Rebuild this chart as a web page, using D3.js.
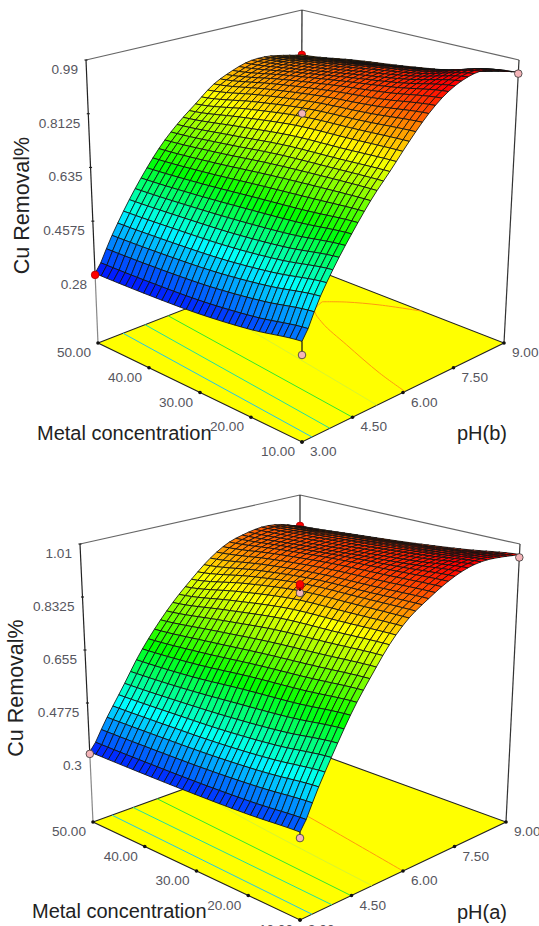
<!DOCTYPE html>
<html>
<head>
<meta charset="utf-8">
<script src="https://cdn.jsdelivr.net/npm/d3@7"></script>
<style>
  body { margin: 0; background: #fff; overflow: hidden; }
  svg { display: block; }
  text { font-family: "Liberation Sans", Arial, sans-serif; }
</style>
</head>
<body>
<svg id="chart" width="539" height="926"></svg>
<script>
// shared axis values
const phLevels = [3, 3.5, 4, 4.5, 5, 5.5, 6, 6.5, 7, 7.5, 8, 8.5, 9];
const metalLevels = [50, 40, 30, 20, 10];
const phTicks = [3, 4.5, 6, 7.5, 9];
const metalTicks = [50, 40, 30, 20, 10];

// chart (b): removal, one row per metal level, along phLevels
const removalB50 = [.285, .385, .48, .565, .64, .70, .75, .80, .83, .85, .852, .84, .825];
const removalB40 = [.29, .391, .487, .575, .655, .722, .787, .835, .865, .878, .882, .871, .855];
const removalB30 = [.30, .402, .497, .59, .675, .745, .815, .862, .895, .91, .915, .898, .88];
const removalB20 = [.32, .424, .516, .605, .69, .755, .825, .878, .92, .94, .945, .93, .91];
const removalB10 = [.35, .455, .545, .625, .70, .765, .835, .90, .95, .98, .99, .975, .95];
const zTicksB = [.28, .4575, .635, .8125, .99];
const zLabelsB = ['0.28', '0.4575', '0.635', '0.8125', '0.99'];
const colorStopsB = [.28, .4575, .60, .78, .96];
const designMetalB = [50, 50, 30, 10, 10];
const designPhB = [3, 9, 6, 9, 3];
const designRemovalB = [.28, .825, .825, .945, .31];
const designAboveB = [true, true, false, false, false];
// floor contours: pH where each line meets a metal level
const contourLevelsB = [.42, .53, .64, .73, .84];
const contourMetalB = [[50, 10], [50, 10], [50, 10], [50, 35, 10], [38.6, 37.4, 33.6, 26.2, 16.6, 10]];
const contourPhB = [[3.74, 3.3], [4.39, 3.83], [5.07, 4.5], [6.08, 5.76, 5.23], [7.92, 7.51, 7.17, 6.77, 6.3, 6.06]];
const contourMetalB2 = [36.1, 32, 26.1];
const contourPhB2 = [8.26, 8.63, 9];

// chart (a)
const removalA50 = [.314, .405, .495, .59, .67, .74, .80, .855, .895, .915, .925, .917, .896];
const removalA40 = [.317, .41, .502, .60, .69, .772, .84, .885, .918, .93, .937, .93, .912];
const removalA30 = [.322, .417, .512, .62, .71, .80, .868, .905, .935, .945, .95, .945, .929];
const removalA20 = [.33, .43, .529, .635, .725, .81, .875, .912, .945, .96, .967, .962, .95];
const removalA10 = [.343, .45, .555, .655, .74, .82, .88, .92, .955, .98, .99, .985, .975];
const zTicksA = [.3, .4775, .655, .8325, 1.01];
const zLabelsA = ['0.3', '0.4775', '0.655', '0.8325', '1.01'];
const colorStopsA = [.30, .46, .62, .82, .98];
const designMetalA = [50, 50, 30, 30, 30, 10, 10];
const designPhA = [3, 9, 6, 6, 6, 9, 3];
const designRemovalA = [.307, .896, .861, .884, .89, .965, .325];
const designAboveA = [false, true, false, true, true, false, false];
const contourLevelsA = [.42, .53, .64, .73, .84];
const contourMetalA = [[50, 10], [50, 10], [50, 10], [50, 36.8, 10], [50, 30.4, 10]];
const contourPhA = [[3.55, 3.35], [4.16, 3.93], [4.86, 4.49], [5.8, 5.49, 5.1], [6.95, 6.48, 6]];

const bandColors = ['#0000ff', '#00ffff', '#00ff00', '#ffff00', '#ff0000'];
const meshCells = 34;

class ResponseSurface {

    constructor(_config) {
        this.config = _config;
        this.initVis();
    }

    initVis() {
        let vis = this;

        vis.g = d3.select('#chart').append('g');

        // data -> unit cube
        vis.uScale = d3.scaleLinear().domain([3, 9]).range([0, 1]);
        vis.vScale = d3.scaleLinear().domain([50, 10]).range([0, 1]);
        vis.hScale = d3.scaleLinear().domain([vis.config.floorZ, d3.max(vis.config.zTicks)]).range([0, 1]);
        vis.phIndex = d3.scaleLinear().domain([3, 9]).range([0, phLevels.length - 1]);
        vis.metalIndex = d3.scaleLinear().domain([50, 10]).range([0, metalLevels.length - 1]);
        vis.color = d3.scaleLinear().domain(vis.config.colorStops).range(bandColors).clamp(true);

        vis.line = d3.line().x(d => d[0]).y(d => d[1]);

        vis.drawFloor();
        vis.drawBox();
        vis.drawPoints(d => d.metal == 50 && d.ph == 9);
        vis.drawSurface();
        vis.drawPoints(d => !(d.metal == 50 && d.ph == 9));
        vis.drawLabels();
    }

    // the box corners are known on screen, everything in between is trilinear
    project(ph, metal, z) {
        let vis = this;
        let u = vis.uScale(ph), v = vis.vScale(metal), h = vis.hScale(z);
        let b = vis.config.box;
        let at = k => {
            let lo = b.left[k] * (1 - u) * (1 - v) + b.back[k] * u * (1 - v)
                + b.front[k] * (1 - u) * v + b.right[k] * u * v;
            let hi = b.leftTop[k] * (1 - u) * (1 - v) + b.backTop[k] * u * (1 - v)
                + b.frontTop[k] * (1 - u) * v + b.rightTop[k] * u * v;
            return lo + (hi - lo) * h;
        };
        return [at(0), at(1)];
    }

    spline(vals, t) {
        let i = Math.min(Math.floor(t), vals.length - 2), f = t - i;
        let p0 = vals[Math.max(i - 1, 0)], p1 = vals[i], p2 = vals[i + 1], p3 = vals[Math.min(i + 2, vals.length - 1)];
        return .5 * (2 * p1 + (p2 - p0) * f + (2 * p0 - 5 * p1 + 4 * p2 - p3) * f * f + (3 * p1 - p0 - 3 * p2 + p3) * f * f * f);
    }

    removalAt(ph, metal) {
        let vis = this;
        let across = vis.config.rows.map(r => vis.spline(r, vis.phIndex(ph)));
        return vis.spline(across, vis.metalIndex(metal));
    }

    drawFloor() {
        let vis = this;
        let zf = vis.config.floorZ;
        let corners = [[3, 50], [9, 50], [9, 10], [3, 10]].map(d => vis.project(d[0], d[1], zf));

        vis.g.append('path')
            .attr('d', vis.line(corners) + 'Z')
            .attr('fill', '#ffff00')
            .attr('stroke', '#222')
            .attr('stroke-width', 1.1);

        // contour lines on the floor
        vis.config.contours.forEach(c => {
            let pts = c.metal.map((m, i) => vis.project(c.ph[i], m, zf));
            vis.g.append('path')
                .attr('d', d3.line().curve(d3.curveCatmullRom)(pts))
                .attr('fill', 'none')
                .attr('stroke', vis.config.contourColor(c.level))
                .attr('stroke-width', 1);
        });
    }

    drawBox() {
        let vis = this;
        let zf = vis.config.floorZ, zt = d3.max(vis.config.zTicks);
        let seg = (a, b, col) => vis.g.append('path')
            .attr('d', vis.line([a, b]))
            .attr('stroke', col)
            .attr('stroke-width', 1.2)
            .attr('fill', 'none');

        let lt = vis.project(3, 50, zt), bt = vis.project(9, 50, zt), rt = vis.project(9, 10, zt);
        seg(lt, bt, '#666');
        seg(bt, rt, '#666');
        seg(lt, vis.project(3, 50, vis.config.zTicks[0]), '#222');
        seg(vis.project(3, 50, vis.config.zTicks[0]), vis.project(3, 50, zf), '#888');
        seg(bt, vis.project(9, 50, zf), '#222');
        seg(rt, vis.project(9, 10, zf), '#333');

        // ticks on the height axis
        vis.config.zTicks.forEach(z => {
            let p = vis.project(3, 50, z);
            seg([p[0] - 1.5, p[1]], [p[0] + 1.5, p[1]], '#222');
        });

        // tick dots along the two front floor edges
        let dots = metalTicks.map(m => vis.project(3, m, zf)).concat(phTicks.map(ph => vis.project(ph, 10, zf)));
        vis.g.selectAll('.tick-dot').data(dots).enter().append('circle')
            .attr('class', 'tick-dot')
            .attr('cx', d => d[0]).attr('cy', d => d[1])
            .attr('r', 1.8).attr('fill', '#111');
    }

    drawSurface() {
        let vis = this;
        let phStep = d3.range(meshCells + 1).map(i => 3 + 6 * i / meshCells);
        let metalStep = d3.range(meshCells + 1).map(i => 50 - 40 * i / meshCells);
        let cells = [];

        // back to front, the far corner is pH 9 / metal 50
        for (let i = meshCells - 1; i >= 0; i--) {
            for (let j = 0; j < meshCells; j++) {
                let q = [[i, j], [i + 1, j], [i + 1, j + 1], [i, j + 1]].map(d => [phStep[d[0]], metalStep[d[1]]]);
                let zs = q.map(d => vis.removalAt(d[0], d[1]));
                cells.push({ pts: q.map((d, k) => vis.project(d[0], d[1], zs[k])), z: d3.mean(zs) });
            }
        }

        vis.g.append('g').selectAll('path').data(cells).enter().append('path')
            .attr('d', d => vis.line(d.pts) + 'Z')
            .attr('fill', d => vis.color(d.z))
            .attr('stroke', '#111')
            .attr('stroke-width', .85);
    }

    drawPoints(filter) {
        let vis = this;
        let c = vis.config;
        let pts = c.designMetal.map((m, i) => ({ metal: m, ph: c.designPh[i], z: c.designRemoval[i], above: c.designAbove[i] }))
            .filter(filter);

        pts.forEach(d => {
            let p = vis.project(d.ph, d.metal, d.z);
            let s = vis.project(d.ph, d.metal, vis.removalAt(d.ph, d.metal));
            vis.g.append('path').attr('d', vis.line([p, s])).attr('stroke', '#111').attr('stroke-width', 1.2);
            vis.g.append('circle')
                .attr('cx', p[0]).attr('cy', p[1]).attr('r', 3.8)
                .attr('fill', d.above ? '#ff0000' : '#f4b4b8')
                .attr('stroke', d.above ? '#b00000' : '#333')
                .attr('stroke-width', .8);
        });
    }

    drawLabels() {
        let vis = this;
        let c = vis.config;
        let zf = c.floorZ;

        let label = (p, txt, anchor, dx) => vis.g.append('text')
            .attr('x', p[0] + dx).attr('y', p[1] + 14)
            .attr('text-anchor', anchor)
            .attr('font-size', 13.6)
            .attr('fill', '#56565e')
            .text(txt);

        c.zTicks.forEach((z, i) => label(vis.project(3, 50, z), c.zLabels[i], 'end', -8));
        metalTicks.forEach(m => label(vis.project(3, m, zf), d3.format('.2f')(m), 'end', -7));
        phTicks.forEach(ph => label(vis.project(ph, 10, zf), d3.format('.2f')(ph), 'start', 8));

        vis.g.append('text')
            .attr('transform', `translate(${c.zTitle[0]},${c.zTitle[1]}) rotate(-90)`)
            .attr('text-anchor', 'middle')
            .attr('font-size', 21.5)
            .attr('fill', '#222')
            .text('Cu Removal%');

        vis.g.append('text')
            .attr('x', c.metalTitle[0]).attr('y', c.metalTitle[1])
            .attr('font-size', 20)
            .attr('fill', '#222')
            .text('Metal concentration');

        vis.g.append('text')
            .attr('x', c.phTitle[0]).attr('y', c.phTitle[1])
            .attr('font-size', 20)
            .attr('fill', '#222')
            .text(c.phName);
    }
}

const contourColor = d3.scaleLinear()
    .domain([.42, .53, .64, .73, .84])
    .range(['#20c8e8', '#20e0a0', '#30e830', '#d8f430', '#ff9a10']);

const contoursB = contourLevelsB.map((l, i) => ({ level: l, metal: contourMetalB[i], ph: contourPhB[i] }))
    .concat([{ level: .84, metal: [38.6].concat(contourMetalB2), ph: [7.92].concat(contourPhB2) }]);
const contoursA = contourLevelsA.map((l, i) => ({ level: l, metal: contourMetalA[i], ph: contourPhA[i] }));

new ResponseSurface({
    rows: [removalB50, removalB40, removalB30, removalB20, removalB10],
    zTicks: zTicksB, zLabels: zLabelsB, floorZ: .055, colorStops: colorStopsB,
    designMetal: designMetalB, designPh: designPhB, designRemoval: designRemovalB, designAbove: designAboveB,
    contours: contoursB, contourColor: contourColor,
    box: {
        left: [98, 343], back: [301, 264], right: [504, 343], front: [302, 442],
        leftTop: [86, 60], backTop: [302, 10], rightTop: [519, 60], frontTop: [302, 123]
    },
    zTitle: [29, 205.5], metalTitle: [37, 440], phTitle: [457, 440], phName: 'pH(b)'
});

new ResponseSurface({
    rows: [removalA50, removalA40, removalA30, removalA20, removalA10],
    zTicks: zTicksA, zLabels: zLabelsA, floorZ: .079, colorStops: colorStopsA,
    designMetal: designMetalA, designPh: designPhA, designRemoval: designRemovalA, designAbove: designAboveA,
    contours: contoursA, contourColor: contourColor,
    box: {
        left: [93, 822], back: [300, 747], right: [506, 822], front: [300, 920],
        leftTop: [80, 544], backTop: [300, 495], rightTop: [520, 544], frontTop: [300, 610]
    },
    zTitle: [23, 688], metalTitle: [32, 918], phTitle: [457, 919], phName: 'pH(a)'
});
</script>
</body>
</html>
